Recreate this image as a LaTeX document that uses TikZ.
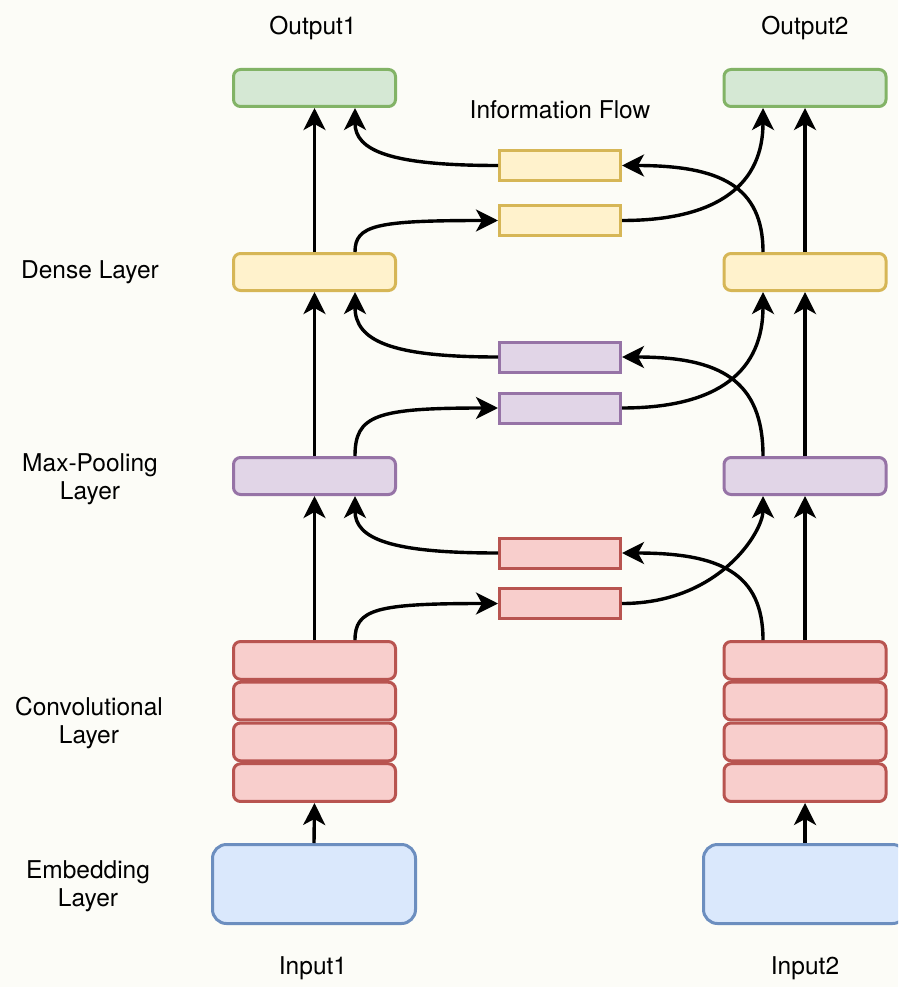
\documentclass[tikz,border=0pt]{standalone}
\usepackage{fontspec}
\setmainfont{TeX Gyre Heros}
\usetikzlibrary{arrows.meta}
\definecolor{bgc}{RGB}{252,252,247}
\definecolor{gfill}{HTML}{D5E8D4}\definecolor{gdraw}{HTML}{82B366}
\definecolor{yfill}{HTML}{FFF2CC}\definecolor{ydraw}{HTML}{D6B656}
\definecolor{pfill}{HTML}{E1D5E7}\definecolor{pdraw}{HTML}{9673A6}
\definecolor{rfill}{HTML}{F8CECC}\definecolor{rdraw}{HTML}{B85450}
\definecolor{bfill}{HTML}{DAE8FC}\definecolor{bdraw}{HTML}{6C8EBF}
\tikzset{
  layerbox/.style={draw, line width=3pt, rounded corners=7pt, minimum width=162pt, minimum height=37pt, inner sep=0pt},
  convbox/.style={layerbox, fill=rfill, draw=rdraw, minimum height=37.75pt},
  flowbox/.style={draw, line width=3pt, minimum width=121pt, minimum height=30pt, inner sep=0pt},
  embbox/.style={draw=bdraw, fill=bfill, line width=3pt, rounded corners=14pt, minimum width=203pt, minimum height=79pt, inner sep=0pt},
  lbl/.style={font=\fontsize{24.5}{28.5}\selectfont, align=center, inner sep=0pt},
  arr/.style={line width=3.4pt, -{Stealth[length=22pt, width=22pt, inset=6pt]}},
}
\begin{document}
\begin{tikzpicture}[x=1pt, y=-1pt]
\fill[bgc] (0,0) rectangle (898,987);
\useasboundingbox (0,0) rectangle (898,987);
\begin{scope}
\clip (0,0) rectangle (898,987);
% left column
\node[layerbox, fill=gfill, draw=gdraw] (oL) at (314.5,88) {};
\node[layerbox, fill=yfill, draw=ydraw] (dL) at (314.5,272) {};
\node[layerbox, fill=pfill, draw=pdraw] (pL) at (314.5,476) {};
\node[convbox] (c1L) at (314.5,660.4) {};
\node[convbox] (c2L) at (314.5,701.1) {};
\node[convbox] (c3L) at (314.5,741.9) {};
\node[convbox] (c4L) at (314.5,782.6) {};
\node[embbox] (eL) at (314,884) {};
% right column
\node[layerbox, fill=gfill, draw=gdraw] (oR) at (805,88) {};
\node[layerbox, fill=yfill, draw=ydraw] (dR) at (805,272) {};
\node[layerbox, fill=pfill, draw=pdraw] (pR) at (805,476) {};
\node[convbox] (c1R) at (805,660.4) {};
\node[convbox] (c2R) at (805,701.1) {};
\node[convbox] (c3R) at (805,741.9) {};
\node[convbox] (c4R) at (805,782.6) {};
\node[embbox] (eR) at (805,884) {};
% information flow boxes
\node[flowbox, fill=yfill, draw=ydraw] (yU) at (560,165.5) {};
\node[flowbox, fill=yfill, draw=ydraw] (yL) at (560,220.5) {};
\node[flowbox, fill=pfill, draw=pdraw] (pU) at (560,357) {};
\node[flowbox, fill=pfill, draw=pdraw] (pLo) at (560,408) {};
\node[flowbox, fill=rfill, draw=rdraw] (rU) at (560,553) {};
\node[flowbox, fill=rfill, draw=rdraw] (rL) at (560,603.5) {};
\end{scope}
% labels
\node[lbl] (t1) at (313,28) {Output1};
\node[lbl] (t2) at (805,28) {Output2};
\node[lbl] (t3) at (313,968) {Input1};
\node[lbl] (t4) at (805,968) {Input2};
\node[lbl] (t5) at (560,110) {Information Flow};
\node[lbl] (t6) at (90,272) {Dense Layer};
\node[lbl] (t7) at (90,479) {Max-Pooling\\Layer};
\node[lbl] (t8) at (89,723) {Convolutional\\Layer};
\node[lbl] (t9) at (88,886) {Embedding\\Layer};
% straight arrows
\draw[arr] (eL.north) -- (c4L.south);
\draw[arr] (eR.north) -- (c4R.south);
\draw[arr] (c1L.north) -- (pL.south);
\draw[arr] (c1R.north) -- (pR.south);
\draw[arr] (pL.north) -- (dL.south);
\draw[arr] (pR.north) -- (dR.south);
\draw[arr] (dL.north) -- (oL.south);
\draw[arr] (dR.north) -- (oR.south);
% level 1: conv -> max-pooling
\draw[arr] ([xshift=40.5pt]c1L.north) .. controls +(0,-31) and +(-122,0) .. (rL.west);
\draw[arr] (rU.west) .. controls +(-107,0) and +(0,43) .. ([xshift=40.5pt]pL.south);
\draw[arr] ([xshift=-42pt]c1R.north) .. controls +(0,-67) and +(98,0) .. (rU.east);
\draw[arr] (rL.east) .. controls +(98,0) and +(0,35) .. ([xshift=-42pt]pR.south);
% level 2: max-pooling -> dense
\draw[arr] ([xshift=40.5pt]pL.north) .. controls +(0,-41) and +(-122,0) .. (pLo.west);
\draw[arr] (pU.west) .. controls +(-107,0) and +(0,49) .. ([xshift=40.5pt]dL.south);
\draw[arr] ([xshift=-42pt]pR.north) .. controls +(0,-76) and +(98,0) .. (pU.east);
\draw[arr] (pLo.east) .. controls +(98,0) and +(0,78) .. ([xshift=-42pt]dR.south);
% level 3: dense -> output
\draw[arr] ([xshift=40.5pt]dL.north) .. controls +(0,-27) and +(-122,0) .. (yL.west);
\draw[arr] (yU.west) .. controls +(-107,0) and +(0,43) .. ([xshift=40.5pt]oL.south);
\draw[arr] ([xshift=-42pt]dR.north) .. controls +(0,-66) and +(98,0) .. (yU.east);
\draw[arr] (yL.east) .. controls +(98,0) and +(0,75) .. ([xshift=-42pt]oR.south);
\end{tikzpicture}
\end{document}
